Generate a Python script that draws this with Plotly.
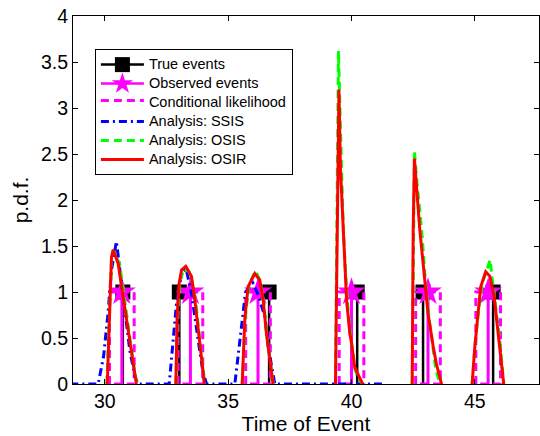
import plotly.graph_objects as go

# ---- data -------------------------------------------------------------
true_times = [30.73, 33.02, 36.66, 40.23, 42.90, 45.74]
true_pdf = [1, 1, 1, 1, 1, 1]

obs_times = [30.69, 33.47, 36.21, 40.00, 43.10, 45.54]
obs_pdf = [1, 1, 1, 1, 1, 1]

# uniform conditional likelihood centred on each observation
cond_width = 1.0

# SSIS analysis pdf (single curve on a common grid)
ssis_x = [28.60, 29.73, 29.95, 30.13, 30.27, 30.47, 30.61, 30.81, 31.01, 31.22, 31.35,
          32.61, 32.70, 32.80, 32.90, 33.11, 33.30, 33.51, 33.65, 33.82, 33.96, 34.12,
          35.27, 35.40, 35.54, 35.70, 35.85, 36.00, 36.20, 36.49, 36.62, 36.82, 36.89,
          41.30]
ssis_y = [0.00, 0.00, 0.30, 0.77, 1.24, 1.55, 1.24, 0.77, 0.37, 0.08, 0.00,
          0.00, 0.27, 0.59, 0.86, 1.20, 1.25, 0.99, 0.70, 0.41, 0.16, 0.00,
          0.00, 0.30, 0.63, 0.99, 1.06, 1.10, 0.98, 0.73, 0.41, 0.08, 0.00,
          0.00]

# OSIS analysis pdf, one bump per event
osis_x = [
    [30.08, 30.20, 30.28, 30.36, 30.60, 30.80, 31.00, 31.18, 31.30],
    [32.88, 32.95, 33.05, 33.20, 33.42, 33.55, 33.70, 33.85, 33.98, 34.05],
    [35.57, 35.70, 35.85, 36.10, 36.30, 36.45, 36.58, 36.72, 36.83],
    [39.35, 39.47, 39.60, 39.67, 39.75, 39.85, 39.97, 40.15, 40.30, 40.45],
    [42.46, 42.50, 42.55, 42.65, 42.85, 43.00, 43.15, 43.30, 43.42, 43.60],
    [44.89, 45.00, 45.15, 45.30, 45.50, 45.62, 45.70, 45.85, 46.00, 46.12, 46.17],
]
osis_y = [
    [0.00, 0.95, 1.40, 1.45, 1.30, 0.92, 0.52, 0.18, 0.00],
    [0.00, 0.75, 1.12, 1.25, 1.22, 1.10, 0.85, 0.50, 0.15, 0.00],
    [0.00, 0.75, 1.08, 1.23, 1.12, 0.88, 0.50, 0.22, 0.00],
    [0.00, 3.62, 2.30, 1.67, 1.25, 0.85, 0.50, 0.15, 0.05, 0.00],
    [0.00, 1.70, 2.53, 2.20, 1.65, 1.10, 0.70, 0.40, 0.15, 0.00],
    [0.00, 0.40, 0.80, 1.10, 1.25, 1.35, 1.15, 0.85, 0.50, 0.15, 0.00],
]

# OSIR analysis pdf, one bump per event
osir_x = [
    [30.10, 30.20, 30.27, 30.34, 30.54, 30.74, 30.95, 31.15, 31.28],
    [32.88, 32.93, 33.01, 33.11, 33.28, 33.51, 33.65, 33.82, 33.96, 34.03],
    [35.57, 35.68, 35.81, 36.08, 36.28, 36.42, 36.55, 36.69, 36.82],
    [39.35, 39.49, 39.55, 39.66, 39.73, 39.80, 39.93, 40.00, 40.13, 40.30, 40.45],
    [42.46, 42.50, 42.55, 42.62, 42.77, 42.97, 43.10, 43.31, 43.44, 43.65],
    [44.89, 45.00, 45.13, 45.24, 45.44, 45.61, 45.78, 45.94, 46.08, 46.17],
]
osir_y = [
    [0.00, 0.95, 1.38, 1.46, 1.31, 0.95, 0.59, 0.22, 0.00],
    [0.00, 0.73, 1.09, 1.24, 1.28, 1.17, 0.91, 0.55, 0.19, 0.00],
    [0.00, 0.73, 1.06, 1.20, 1.13, 0.91, 0.55, 0.26, 0.00],
    [0.00, 3.20, 2.36, 1.67, 1.27, 0.91, 0.55, 0.45, 0.18, 0.08, 0.00],
    [0.00, 1.67, 2.45, 2.20, 1.67, 1.13, 0.77, 0.41, 0.22, 0.00],
    [0.00, 0.41, 0.77, 1.06, 1.22, 1.17, 0.95, 0.59, 0.22, 0.00],
]

x_ticks = [30, 35, 40, 45]
y_ticks = [0, 0.5, 1, 1.5, 2, 2.5, 3, 3.5, 4]
y_tick_text = ["0", "0.5", "1", "1.5", "2", "2.5", "3", "3.5", "4"]

# ---- helpers -----------------------------------------------------------
def stems(times, vals):
    xs, ys = [], []
    for t, v in zip(times, vals):
        xs += [t, t, None]
        ys += [0, v, None]
    return xs, ys


def joined(list_x, list_y):
    xs, ys = [], []
    for sx, sy in zip(list_x, list_y):
        xs += list(sx) + [None]
        ys += list(sy) + [None]
    return xs, ys


def boxes(centres, width):
    h = 1.0 / width
    xs, ys = [], []
    for c in centres:
        a, b = c - width / 2, c + width / 2
        xs += [a, a, b, b, a, None]
        ys += [0, h, h, 0, 0, None]
    return xs, ys


def label(text):
    # legend entries are rendered a little larger than the row pitch font
    return '<span style="font-size:14.5px">' + text + "</span>"


BLACK, MAGENTA, BLUE, GREEN, RED = "#000000", "#FF00FF", "#0000FF", "#00FF00", "#FF0000"
FONT = "Liberation Sans, Arial, Helvetica, sans-serif"

fig = go.Figure()

# True events: stems with square heads
sx, sy = stems(true_times, true_pdf)
fig.add_trace(go.Scatter(x=[None], y=[None], mode="lines+markers", name=label("True events"),
                         legendgroup="true",
                         line=dict(color=BLACK, width=2.5),
                         marker=dict(symbol="square", size=15, color=BLACK)))
fig.add_trace(go.Scatter(x=sx, y=sy, mode="lines", showlegend=False, legendgroup="true",
                         line=dict(color=BLACK, width=2.5), hoverinfo="skip"))
fig.add_trace(go.Scatter(x=true_times, y=true_pdf, mode="markers", showlegend=False,
                         legendgroup="true", cliponaxis=False,
                         marker=dict(symbol="square", size=15, color=BLACK)))

# Observed events: stems with star heads
sx, sy = stems(obs_times, obs_pdf)
fig.add_trace(go.Scatter(x=[None], y=[None], mode="lines+markers", name=label("Observed events"),
                         legendgroup="obs",
                         line=dict(color=MAGENTA, width=2.5),
                         marker=dict(symbol="star", size=20, color=MAGENTA)))
fig.add_trace(go.Scatter(x=sx, y=sy, mode="lines", showlegend=False, legendgroup="obs",
                         line=dict(color=MAGENTA, width=3), hoverinfo="skip"))
fig.add_trace(go.Scatter(x=obs_times, y=obs_pdf, mode="markers", showlegend=False,
                         legendgroup="obs",
                         marker=dict(symbol="star", size=21, color=MAGENTA,
                                     line=dict(width=0))))

# Conditional likelihood boxes
bx, by = boxes(obs_times, cond_width)
fig.add_trace(go.Scatter(x=bx, y=by, mode="lines", name=label("Conditional likelihood"),
                         fill="toself", fillcolor="rgba(0,0,0,0)",
                         line=dict(color=MAGENTA, width=3, dash="8px,5px")))

# Analyses
fig.add_trace(go.Scatter(x=ssis_x, y=ssis_y, mode="lines", name=label("Analysis: SSIS"),
                         line=dict(color=BLUE, width=3, dash="8px,4px,2px,4px")))
gx, gy = joined(osis_x, osis_y)
fig.add_trace(go.Scatter(x=gx, y=gy, mode="lines", name=label("Analysis: OSIS"),
                         line=dict(color=GREEN, width=3, dash="8px,5px")))
rx, ry = joined(osir_x, osir_y)
fig.add_trace(go.Scatter(x=rx, y=ry, mode="lines", name=label("Analysis: OSIR"),
                         line=dict(color=RED, width=3)))

axis_common = dict(showgrid=False, zeroline=False, showline=True, linecolor=BLACK,
                   linewidth=1, mirror="ticks", ticks="inside", ticklen=5,
                   tickcolor=BLACK, tickwidth=1,
                   tickfont=dict(family=FONT, size=19.5, color=BLACK))

fig.update_xaxes(range=[28.71, 47.6], tickvals=x_ticks, ticktext=[str(t) for t in x_ticks],
                 title=dict(text="Time of Event", font=dict(family=FONT, size=21, color=BLACK),
                            standoff=4),
                 **axis_common)
fig.update_yaxes(range=[0, 4], tickvals=y_ticks, ticktext=y_tick_text,
                 title=dict(text="p.d.f.", font=dict(family=FONT, size=21, color=BLACK),
                            standoff=6),
                 **axis_common)

fig.update_layout(
    width=540, height=436,
    margin=dict(l=73, r=1, t=16, b=52, autoexpand=False),
    paper_bgcolor="white", plot_bgcolor="white",
    font=dict(family=FONT, color=BLACK),
    legend=dict(x=0.047, y=0.91, xanchor="left", yanchor="top",
                bgcolor="white", bordercolor=BLACK, borderwidth=1,
                font=dict(family=FONT, size=12.1, color=BLACK),
                itemwidth=43, tracegroupgap=0),
    showlegend=True,
)

fig.write_html("out.html")
